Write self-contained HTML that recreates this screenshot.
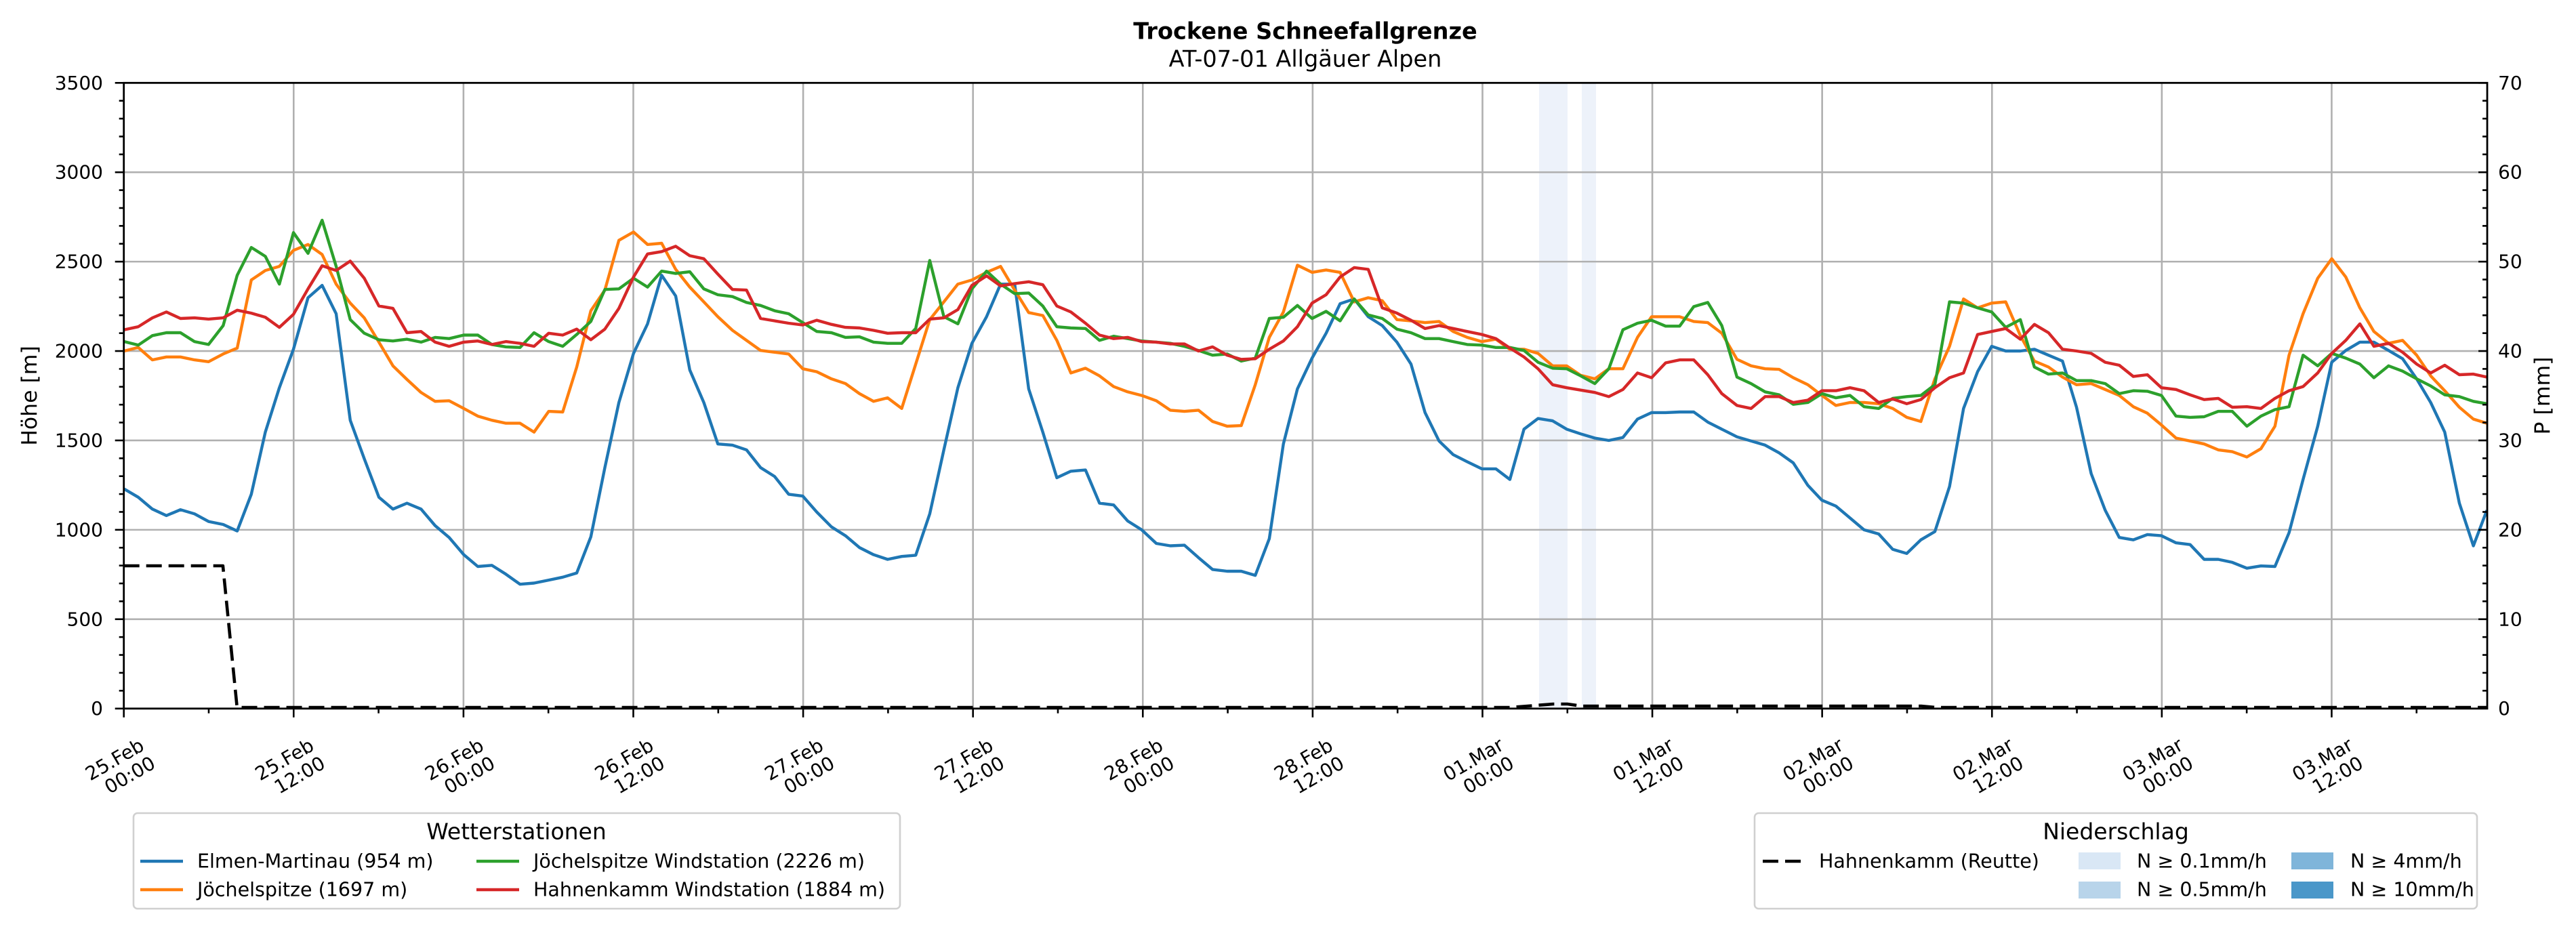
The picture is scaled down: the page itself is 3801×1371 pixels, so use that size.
<!DOCTYPE html>
<html><head><meta charset="utf-8"><style>
html,body{margin:0;padding:0;background:#fff;}
svg{display:block;font-family:"DejaVu Sans","Liberation Sans",sans-serif;}
</style></head><body>
<svg id="s" xmlns="http://www.w3.org/2000/svg" width="3801" height="1371" viewBox="0 0 3801 1371">
<rect width="3801" height="1371" fill="#fff"/>
<g id="bands"><rect x="2271" y="122.3" width="42" height="923.4" fill="#edf2fa"/><rect x="2334" y="122.3" width="21" height="923.4" fill="#edf2fa"/></g>
<g id="grid" stroke="#b0b0b0" stroke-width="2.6"></g>
<g id="series" fill="none" stroke-width="4.4" stroke-linejoin="round" stroke-linecap="butt"></g>
<rect x="182.7" y="122.3" width="3487.3" height="923.4" fill="none" stroke="#000" stroke-width="2.8"/>
<g id="ticks" stroke="#000" stroke-width="2.6"></g>
<g id="labels" font-size="28" fill="#000"></g>
<text x="1926" y="46" font-size="33.5" font-weight="bold" text-anchor="middle" dominant-baseline="central">Trockene Schneefallgrenze</text>
<text x="1926" y="87" font-size="33.5" text-anchor="middle" dominant-baseline="central">AT-07-01 Allgäuer Alpen</text>
<text transform="translate(44,584) rotate(-90)" font-size="31.5" text-anchor="middle" dominant-baseline="central">Höhe [m]</text>
<text transform="translate(3752,584) rotate(-90)" font-size="31.5" text-anchor="middle" dominant-baseline="central">P [mm]</text>
<!-- legend 1 -->
<rect x="197" y="1200" width="1131" height="141" rx="6" fill="#fff" stroke="#d0d0d0" stroke-width="2.6"/>
<g font-size="28.5" dominant-baseline="central">
<text x="762" y="1227" text-anchor="middle" font-size="33">Wetterstationen</text>
<line x1="207" y1="1271" x2="270" y2="1271" stroke="#1f77b4" stroke-width="4.4"/>
<text x="291" y="1271">Elmen-Martinau (954 m)</text>
<line x1="207" y1="1313" x2="270" y2="1313" stroke="#ff7f0e" stroke-width="4.4"/>
<text x="291" y="1313">Jöchelspitze (1697 m)</text>
<line x1="703" y1="1271" x2="766" y2="1271" stroke="#2ca02c" stroke-width="4.4"/>
<text x="787" y="1271">Jöchelspitze Windstation (2226 m)</text>
<line x1="703" y1="1313" x2="766" y2="1313" stroke="#d62728" stroke-width="4.4"/>
<text x="787" y="1313">Hahnenkamm Windstation (1884 m)</text>
</g>
<!-- legend 2 -->
<rect x="2589" y="1200" width="1066" height="141" rx="6" fill="#fff" stroke="#d0d0d0" stroke-width="2.6"/>
<g font-size="28.5" dominant-baseline="central">
<text x="3122" y="1227" text-anchor="middle" font-size="33">Niederschlag</text>
<line x1="2601" y1="1271" x2="2658" y2="1271" stroke="#000" stroke-width="4.6" stroke-dasharray="23 10"/>
<text x="2684" y="1271">Hahnenkamm (Reutte)</text>
<rect x="3067" y="1258" width="62" height="25" fill="#d9e7f5"/>
<text x="3153" y="1271">N ≥ 0.1mm/h</text>
<rect x="3067" y="1301" width="62" height="25" fill="#b8d4ea"/>
<text x="3153" y="1313">N ≥ 0.5mm/h</text>
<rect x="3381" y="1258" width="62" height="25" fill="#7fb5da"/>
<text x="3468" y="1271">N ≥ 4mm/h</text>
<rect x="3381" y="1301" width="62" height="25" fill="#4a97c9"/>
<text x="3468" y="1313">N ≥ 10mm/h</text>
</g>
</svg>
<script>
(function(){
var NS="http://www.w3.org/2000/svg";
function el(p,t,a,txt){var e=document.createElementNS(NS,t);for(var k in a)e.setAttribute(k,a[k]);if(txt!==undefined)e.textContent=txt;p.appendChild(e);return e;}
var X0=182.7,X1=3670,Y0=122.3,Y1=1045.7,PH=20.883;
function X(h){return X0+PH*h;}
function Ym(m){return Y1-m*(Y1-Y0)/3500;}
function Yp(p){return Y1-p*(Y1-Y0)/70;}
var grid=document.getElementById('grid'),ticks=document.getElementById('ticks'),lab=document.getElementById('labels');
for(var m=500;m<3500;m+=500)el(grid,'line',{x1:X0,x2:X1,y1:Ym(m),y2:Ym(m)});
for(var k=1;k<14;k++)el(grid,'line',{x1:X(12*k),x2:X(12*k),y1:Y0,y2:Y1});
for(var m=0;m<=3500;m+=100){var maj=m%500==0;el(ticks,'line',{x1:X0-(maj?13:7),x2:X0,y1:Ym(m),y2:Ym(m)});
 if(maj)el(lab,'text',{x:152,y:Ym(m),'text-anchor':'end','dominant-baseline':'central'},String(m));}
for(var p=0;p<=70;p+=2){var maj=p%10==0;el(ticks,'line',{x1:X1,x2:X1-(maj?13:7),y1:Yp(p),y2:Yp(p)});
 if(maj)el(lab,'text',{x:3686,y:Yp(p),'dominant-baseline':'central'},String(p));}
var days=['25.Feb','26.Feb','27.Feb','28.Feb','01.Mar','02.Mar','03.Mar'];
for(var h=0;h<=167;h+=6){var maj=h%12==0;el(ticks,'line',{x1:X(h),x2:X(h),y1:Y1,y2:Y1+(maj?13:7)});
 if(maj){var d=days[Math.floor(h/24)],t=(h%24==0)?'00:00':'12:00';
  var g=el(lab,'g',{transform:'translate('+(X(h)-6)+',1134) rotate(-30)'});
  el(g,'text',{x:0,y:-15,'text-anchor':'middle','dominant-baseline':'central'},d);
  el(g,'text',{x:8,y:16,'text-anchor':'middle','dominant-baseline':'central'},t);}}
var P1=0,P5=1250,P2=2500,SX=1.2056,SY=1.1447;
function conv(off,str,arr){str.trim().split(/\s+/).forEach(function(s){var a=s.split(':');var x=off+(+a[0])/SX,y=(+a[1])/SY;if(!arr.length||x>arr[arr.length-1][0]+5)arr.push([x,y]);});}
function series(parts,color){var arr=[];conv(P1,parts[0],arr);conv(P5,parts[1],arr);conv(P2,parts[2],arr);
 el(document.getElementById('series'),'polyline',{points:arr.map(function(p){return p[0].toFixed(1)+','+p[1].toFixed(1);}).join(' '),stroke:color});}
var blue=["221:826 246:840 271:860 296:871 321:861 346:868 371:881 397:886 422:897 447:835 472:730 497:655 522:590 548:503 573:482 598:530 623:710 648:775 674:840 699:860 724:850 749:860 774:888 799:908 825:937 850:957 875:955 900:970 925:987 950:985 976:980 1001:975 1026:968 1051:907 1076:790 1101:680 1127:597 1152:547 1177:465 1202:500 1227:625 1252:680 1277:750 1303:752 1328:760 1353:790 1378:805 1403:835 1428:838 1453:865 1479:890 1504:905 1529:925 1554:937",
"72:945 97:940 122:938 147:868 172:760 197:655 222:580 248:535 273:480 298:480 323:657 348:730 373:807 398:796 424:794 449:850 474:853 499:880 524:895 550:918 575:922 600:921 625:942 650:962 676:965 701:965 726:972 751:910 776:750 801:657 827:605 852:563 877:513 902:505 927:535 952:550 978:578 1003:615 1028:697 1053:745 1078:768 1103:780 1129:792 1154:792 1179:810 1204:725 1229:707 1255:711 1280:725 1305:733 1330:740 1355:744 1380:739 1406:708 1431:697 1456:697 1481:696 1506:696 1531:713 1556:725",
"76:738 101:745 126:752 151:765 176:782 202:820 227:845 252:855 277:875 302:895 328:902 353:928 378:935 403:912 428:898 454:822 479:690 504:628 529:585 554:593 580:593 605:590 630:600 655:610 680:688 706:800 731:862 756:908 781:912 806:903 831:905 857:917 882:920 907:945 932:945 957:950 983:960 1008:956 1033:957 1058:900 1083:810 1109:720 1134:612 1159:592 1184:578 1209:578 1235:592 1260:606 1285:640 1310:680 1335:730 1361:850 1386:922 1410:862"];
var orange=["221:593 246:587 271:608 296:603 321:603 346:608 371:611 397:598 422:588 447:473 472:457 497:450 522:423 548:413 573:430 598:480 623:512 648:537 674:578 699:618 724:641 749:663 774:678 799:677 825:690 850:703 875:710 900:715 925:715 950:730 976:695 1001:696 1026:620 1051:525 1076:490 1101:406 1127:392 1152:413 1177:411 1202:455 1227:485 1252:510 1277:535 1303:558 1328:575 1353:592 1378:595 1403:598 1428:623 1453:628 1479:640 1504:648 1529:665 1554:678",
"72:672 97:690 122:615 147:540 172:510 197:480 222:473 248:460 273:450 298:490 323:528 348:533 373:575 398:630 424:622 449:635 474:653 499:662 524:668 550:677 575:693 600:695 625:693 650:712 676:720 701:719 726:650 751:570 776:527 801:448 827:460 852:456 877:460 902:510 927:503 952:508 978:540 1003:542 1028:545 1053:543 1078:560 1103:570 1129:577 1154:573 1179:590 1204:590 1229:597 1255:618 1280:618 1305:634 1330:640 1355:623 1380:623 1406:570 1431:535 1456:535 1481:535 1506:543 1531:545 1556:563",
"76:607 101:618 126:623 151:624 176:638 202:650 227:668 252:685 277:680 302:680 328:682 353:690 378:705 403:712 428:640 454:585 479:505 504:520 529:512 554:510 580:567 605:610 630:620 655:637 680:650 706:648 731:658 756:668 781:687 806:698 831:718 857:740 882:745 907:750 932:760 957:763 983:772 1008:758 1033:720 1058:600 1083:530 1109:470 1134:437 1159:468 1184:520 1209:560 1235:580 1260:575 1285:600 1310:635 1335:660 1361:688 1386:708 1410:715"];
var green=["221:577 246:583 271:567 296:562 321:562 346:577 371:582 397:550 422:465 447:418 472:433 497:480 522:393 548:428 573:372 598:450 623:540 648:563 674:574 699:576 724:573 749:578 774:570 799:572 825:566 850:566 875:582 900:586 925:587 950:562 976:577 1001:585 1026:565 1051:543 1076:489 1101:488 1127:470 1152:485 1177:458 1202:462 1227:459 1252:488 1277:498 1303:501 1328:511 1353:516 1378:525 1403:530 1428:545 1453:560 1479:562 1504:570 1529:569 1554:578",
"72:580 97:580 122:555 147:440 172:535 197:547 222:488 248:458 273:480 298:496 323:495 348:517 373:552 398:554 424:555 449:575 474:568 499:572 524:576 550:578 575:580 600:585 625:592 650:600 676:598 701:610 726:605 751:538 776:536 801:516 827:538 852:526 877:542 902:505 927:532 952:538 978:556 1003:562 1028:572 1053:572 1078:577 1103:582 1129:583 1154:587 1179:587 1204:592 1229:612 1255:622 1280:623 1305:635 1330:648 1355:623 1380:557 1406:546 1431:541 1456:551 1481:551 1506:518 1531:511 1556:550",
"76:637 101:648 126:662 151:667 176:683 202:680 227:665 252:672 277:668 302:687 328:690 353:673 378:670 403:668 428:650 454:510 479:512 504:520 529:527 554:553 580:540 605:620 630:632 655:630 680:643 706:643 731:648 756:665 781:660 806:661 831:668 857:703 882:705 907:704 932:695 957:695 983:720 1008:703 1033:692 1058:687 1083:600 1109:618 1134:597 1159:605 1184:615 1209:638 1235:618 1260:627 1285:640 1310:652 1335:667 1361:670 1386:678 1410:682"];
var red=["221:557 246:552 271:537 296:527 321:538 346:537 371:539 397:537 422:524 447:529 472:536 497:553 522:531 548:488 573:449 598:457 623:441 648:470 674:517 699:521 724:562 749:560 774:578 799:585 825:578 850:576 875:582 900:577 925:580 950:585 976:563 1001:566 1026:556 1051:574 1076:556 1101:521 1127:468 1152:429 1177:425 1202:416 1227:432 1252:437 1277:463 1303:489 1328:490 1353:538 1378:542 1403:546 1428:549 1453:541 1479:548 1504:553 1529:554 1554:558",
"72:563 97:562 122:562 147:539 172:537 197:523 222:482 248:466 273:483 298:479 323:476 348:481 373:517 398:527 424:546 449:566 474:572 499:570 524:577 550:578 575:581 600:581 625:593 650:586 676:600 701:607 726:606 751:590 776:576 801:552 827:512 852:498 877:468 902:452 927:455 952:520 978:529 1003:541 1028:555 1053:550 1078:555 1103:560 1129:565 1154:572 1179:588 1204:603 1229:623 1255:650 1280:655 1305:659 1330:663 1355:670 1380:658 1406:630 1431:638 1456:613 1481:608 1506:608 1531:633 1556:665",
"76:685 101:690 126:670 151:670 176:680 202:676 227:660 252:660 277:655 302:660 328:680 353:674 378:682 403:675 428:655 454:638 479:630 504:565 529:560 554:555 580:573 605:548 630:562 655:590 680:593 706:597 731:612 756:617 781:636 806:633 831:655 857:658 882:667 907:675 932:673 957:688 983:687 1008:690 1033:673 1058:660 1083:653 1109:630 1134:597 1159:575 1184:547 1209:585 1235:580 1260:595 1285:615 1310:630 1335:617 1361:633 1386:632 1410:637"];
series(blue,'#1f77b4');series(orange,'#ff7f0e');series(green,'#2ca02c');series(red,'#d62728');
var dp=[[X(0),835],[X(7),835],[X(8),1044],[X(98),1044],[X(101),1039],[X(102),1039],[X(103),1042],[X(127),1042],[X(128),1044],[X(167),1044]];
el(document.getElementById('series'),'polyline',{points:dp.map(function(p){return p[0].toFixed(1)+','+p[1];}).join(' '),stroke:'#000','stroke-width':4.6,'stroke-dasharray':'23 10'});
})();
</script>
</body></html>
